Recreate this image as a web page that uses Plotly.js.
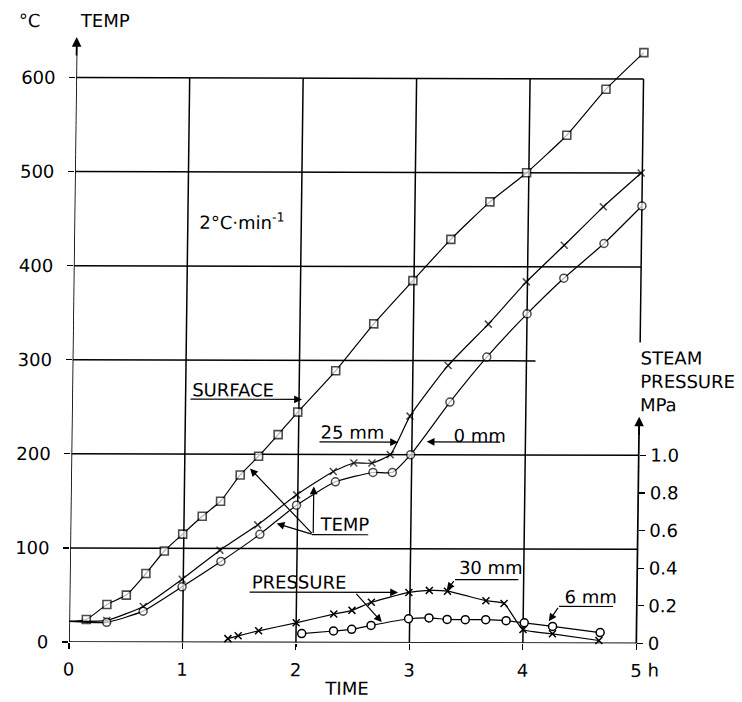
<!DOCTYPE html>
<html>
<head>
<meta charset="utf-8">
<script src="https://cdn.plot.ly/plotly-3.0.1.min.js"></script>
<style>
  html, body { margin:0; padding:0; background:#fff; }
  #chart { width:742px; height:702px; transform-origin: 69px 641.7px; transform: matrix(1, 0.0025, -0.0128, 1, 0, 0); }
</style>
</head>
<body>
<div id="chart"></div>
<script>
// ---- data (time in h, temperature in °C, pressure in MPa) ----
const surfaceTime = [0, 0.15, 0.33, 0.50, 0.67, 0.83, 0.99, 1.16, 1.32, 1.49, 1.65, 1.82, 1.99, 2.32, 2.65, 2.99, 3.32, 3.66, 3.98, 4.33, 4.67, 5.00];
const surfaceTemp = [22, 24, 40, 50, 73, 97, 115, 134, 150, 178, 198, 221, 245, 289, 339, 385, 429, 469, 500, 540, 589, 628];

const depth25Time = [0, 0.33, 0.65, 0.99, 1.32, 1.65, 1.99, 2.31, 2.49, 2.65, 2.81, 2.98, 3.31, 3.66, 3.99, 4.32, 4.66, 4.99];
const depth25Temp = [22, 23, 38, 67, 98, 125, 157, 182, 191, 191, 200, 241, 295, 339, 384, 423, 464, 500];

const depth0Time = [0, 0.33, 0.65, 0.99, 1.33, 1.67, 1.99, 2.33, 2.66, 2.83, 2.99, 3.33, 3.65, 4.00, 4.32, 4.67, 5.00];
const depth0Temp = [22, 21, 33, 59, 86, 115, 146, 171, 181, 181, 200, 256, 304, 350, 388, 425, 465];

const press30Time = [1.40, 1.49, 1.67, 2.00, 2.33, 2.49, 2.66, 2.99, 3.17, 3.33, 3.67, 3.83, 4.00, 4.26, 4.67];
const press30Val  = [0.020, 0.035, 0.062, 0.105, 0.152, 0.172, 0.215, 0.268, 0.279, 0.275, 0.225, 0.210, 0.072, 0.050, 0.015];

const press6Time = [2.05, 2.33, 2.49, 2.66, 2.99, 3.17, 3.33, 3.49, 3.67, 3.85, 4.01, 4.26, 4.68];
const press6Val  = [0.048, 0.062, 0.071, 0.092, 0.128, 0.133, 0.125, 0.124, 0.124, 0.119, 0.108, 0.089, 0.057];

const timeTicks = [0, 1, 2, 3, 4, 5];
const timeTickText = ['0', '1', '2', '3', '4', '5'];
const tempTicks = [0, 100, 200, 300, 400, 500, 600];
const pressTicks = [0, 0.2, 0.4, 0.6, 0.8, 1.0];
const pressTickText = ['0', '0.2', '0.4', '0.6', '0.8', '1.0'];

// ---- drawing ----
const FONT = 'DejaVu Sans';
const sizesFor = (t, s) => t.map(v => v === 0 ? 0 : s);
const lineStyle = { color: '#000', width: 1.2, shape: 'spline', smoothing: 0.5 };

const traces = [
  { x: surfaceTime, y: surfaceTemp, mode: 'lines+markers', line: lineStyle, cliponaxis: false,
    marker: { symbol: 'square', size: sizesFor(surfaceTime, 8), color: '#fff', line: { color: '#000', width: 1.6 } } },
  { x: depth25Time, y: depth25Temp, mode: 'lines+markers', line: lineStyle, cliponaxis: false,
    marker: { symbol: 'x-thin', size: sizesFor(depth25Time, 7), color: '#000', line: { color: '#000', width: 1.5 } } },
  { x: depth0Time, y: depth0Temp, mode: 'lines+markers', line: lineStyle, cliponaxis: false,
    marker: { symbol: 'circle', size: sizesFor(depth0Time, 8), color: '#fff', line: { color: '#000', width: 1.5 } } },
  { x: press30Time, y: press30Val, yaxis: 'y2', mode: 'lines+markers', line: lineStyle, cliponaxis: false,
    marker: { symbol: 'x-thin', size: 7, color: '#000', line: { color: '#000', width: 1.5 } } },
  { x: press6Time, y: press6Val, yaxis: 'y2', mode: 'lines+markers', line: lineStyle, cliponaxis: false,
    marker: { symbol: 'circle', size: 8, color: '#fff', line: { color: '#000', width: 1.5 } } }
];

const gl = (x0, y0, x1, y1, w) => ({ type: 'line', xref: 'x', yref: 'y', x0, y0, x1, y1, layer: 'below',
  line: { color: '#000', width: w || 1.5 } });

const shapes = [
  gl(0, 100, 5, 100), gl(0, 200, 5, 200), gl(0, 300, 4.08, 300), gl(0, 400, 5, 400), gl(0, 500, 5, 500), gl(0, 600, 5, 600),
  gl(1, 0, 1, 600), gl(2, 0, 2, 600), gl(3, 0, 3, 600), gl(4, 0, 4, 600), gl(5, 320, 5, 600),
  gl(0, 0, 0, 640, 1.7), gl(-0.05, 0, 5, 0, 1.7), gl(5, 0, 5, 238, 1.7),
  // underlines
  gl(3.395, 67.4, 3.953, 67.4, 1.2), gl(4.315, 39.2, 4.791, 39.2, 1.2), gl(2.129, 114.8, 2.625, 114.8, 1.2)
];

const txt = (x, y, text, extra) => Object.assign({ x, y, xref: 'x', yref: 'y', text, showarrow: false,
  xanchor: 'left', yanchor: 'middle', font: { family: FONT, size: 18, color: '#000' } }, extra || {});
const ptxt = (x, y, text, extra) => txt(x, y, text, Object.assign({ xref: 'paper', yref: 'paper' }, extra || {}));
const arr = (ax, ay, x, y) => ({ x, y, ax, ay, xref: 'x', yref: 'y', axref: 'x', ayref: 'y', text: '',
  showarrow: true, arrowhead: 2, arrowsize: 1.3, arrowwidth: 1.2, arrowcolor: '#000', standoff: 0, startstandoff: 0 });

const annotations = [
  ptxt(-0.0797, 1.028, '°C', { xanchor: 'center' }),
  ptxt(0.0017, 1.028, 'TEMP'),
  txt(1.081, 447.5, '2°C·min<sup>-1</sup>'),
  txt(1.038, 268, 'SURFACE'), arr(1.030, 258.5, 2.026, 258.5),
  txt(2.180, 223.6, '25 mm'), arr(2.172, 213.3, 2.877, 213.3),
  txt(3.352, 220.8, '0 mm'), arr(3.791, 213.7, 3.130, 213.7),
  txt(2.181, 125.8, 'TEMP'),
  arr(2.14, 114.8, 1.576, 184.8), arr(2.14, 114.8, 1.817, 126.4), arr(2.14, 114.8, 2.14, 166),
  txt(1.588, 64.2, 'PRESSURE'), arr(1.573, 53.6, 2.894, 53.6), arr(2.515, 53.6, 2.754, 22.0),
  txt(3.408, 79.9, '30 mm'), arr(3.395, 67.4, 3.323, 56.0),
  txt(4.349, 49.1, '6 mm'), arr(4.315, 39.2, 4.226, 23.3),
  ptxt(0.4717, -0.076, 'TIME', { xanchor: 'center' }),
  ptxt(0.9785, -0.044, 'h'),
  txt(4.988, 279, 'STEAM<br>PRESSURE<br>MPa', { align: 'left' }),
  { x: 0, y: 643, xref: 'x', yref: 'y', ax: 0, ay: 20, text: '', showarrow: true, arrowhead: 2, arrowsize: 1.2, arrowwidth: 1.6, arrowcolor: '#000', standoff: 0 },
  { x: 5, y: 241, xref: 'x', yref: 'y', ax: 0, ay: 20, text: '', showarrow: true, arrowhead: 2, arrowsize: 1.2, arrowwidth: 1.6, arrowcolor: '#000', standoff: 0 }
];

const layout = {
  width: 742, height: 702,
  margin: { l: 69, r: 83, t: 37, b: 60 },
  paper_bgcolor: '#fff', plot_bgcolor: '#fff', showlegend: false,
  font: { family: FONT, size: 18, color: '#000' },
  xaxis: { range: [0, 5.2], showgrid: false, zeroline: false, showline: false,
    tickvals: timeTicks, ticktext: timeTickText, ticks: 'outside', ticklen: 6, tickwidth: 1.3, tickcolor: '#000',
    ticklabelstandoff: 5, tickfont: { family: FONT, size: 18 } },
  yaxis: { range: [0, 643.1], showgrid: false, zeroline: false, showline: false,
    tickvals: tempTicks, ticks: 'outside', ticklen: 6, tickwidth: 1.3, tickcolor: '#000',
    ticklabelstandoff: 10, tickfont: { family: FONT, size: 18 } },
  yaxis2: { overlaying: 'y', anchor: 'free', position: 5 / 5.2, side: 'right', range: [0, 3.2155],
    showgrid: false, zeroline: false, showline: false,
    tickvals: pressTicks, ticktext: pressTickText, ticks: 'outside', ticklen: 6, tickwidth: 1.3, tickcolor: '#000',
    ticklabelstandoff: 1, tickfont: { family: FONT, size: 18 } },
  shapes, annotations
};

Plotly.newPlot('chart', traces, layout, { staticPlot: true, displayModeBar: false });
</script>
</body>
</html>
